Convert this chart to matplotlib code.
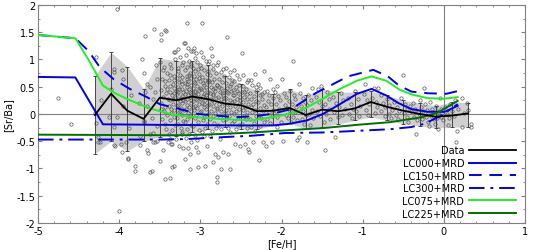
import matplotlib
matplotlib.use('Agg')
import matplotlib.pyplot as plt
import numpy as np
from matplotlib.ticker import MultipleLocator, FormatStrFormatter

plt.rcParams['axes.unicode_minus'] = False
plt.rcParams['font.family'] = 'DejaVu Sans'

# binned data (mean and spread)
bin_feh = [-4.3, -4.1, -3.9, -3.7, -3.5, -3.3, -3.1, -2.9, -2.7, -2.5, -2.3, -2.1,
           -1.9, -1.7, -1.5, -1.3, -1.1, -0.9, -0.7, -0.5, -0.3, -0.1, 0.1, 0.3]
bin_mean = [-0.02, 0.37, 0.06, -0.09, 0.30, 0.25, 0.32, 0.27, 0.19, 0.16, 0.05, 0.06,
            0.11, -0.02, 0.08, 0.05, 0.10, 0.22, 0.13, 0.06, 0.00, -0.05, -0.03, 0.01]
bin_hi = [0.70, 1.13, 0.87, 0.46, 1.02, 0.98, 0.98, 0.89, 0.70, 0.55, 0.43, 0.36,
          0.45, 0.34, 0.46, 0.40, 0.40, 0.42, 0.34, 0.25, 0.20, 0.15, 0.22, 0.21]
bin_lo = [-0.73, -0.50, -0.68, -0.50, -0.42, -0.40, -0.34, -0.28, -0.24, -0.28, -0.28, -0.21,
          -0.17, -0.28, -0.24, -0.18, -0.12, -0.05, -0.12, -0.18, -0.22, -0.26, -0.24, -0.24]

# models
lc000_x = [-5, -4.54, -4.2, -3.5, -2.5, -2.1, -1.9, -1.69, -1.49, -1.28, -1.07, -0.89,
           -0.71, -0.56, -0.40, -0.20, 0.01, 0.17]
lc000_y = [0.68, 0.67, -0.19, -0.20, -0.21, -0.21, -0.18, -0.12, 0.0, 0.18, 0.37, 0.46,
           0.34, 0.20, 0.09, 0.04, 0.04, 0.15]
lc150_x = [-5, -4.54, -4.38, -4.24, -4.07, -3.87, -3.66, -3.50, -3.25, -3.03, -2.57, -2.33,
           -2.12, -1.88, -1.57, -1.18, -0.87, -0.69, -0.56, -0.40, -0.20, 0.03, 0.17]
lc150_y = [1.45, 1.39, 1.16, 0.86, 0.64, 0.46, 0.31, 0.18, 0.09, 0.0, -0.06, -0.04,
           0.0, 0.09, 0.39, 0.69, 0.81, 0.69, 0.53, 0.41, 0.38, 0.37, 0.42]
lc300_x = [-5, -3.5, -3.15, -2.78, -2.37, -1.96, -1.49, -1.07, -0.66, -0.40, -0.24, -0.03, 0.17]
lc300_y = [-0.47, -0.47, -0.46, -0.43, -0.40, -0.35, -0.34, -0.31, -0.28, -0.24, -0.18, -0.03, 0.18]
lc075_x = [-5, -4.54, -4.38, -4.2, -4.05, -3.91, -3.62, -3.37, -3.13, -2.78, -2.37, -2.04,
           -1.83, -1.69, -1.49, -1.28, -1.07, -0.89, -0.71, -0.55, -0.4, -0.2, 0.0, 0.17]
lc075_y = [1.45, 1.39, 1.0, 0.52, 0.38, 0.28, 0.10, 0.0, -0.05, -0.09, -0.12, -0.04,
           0.03, 0.12, 0.28, 0.46, 0.61, 0.69, 0.61, 0.45, 0.36, 0.29, 0.28, 0.31]
lc225_x = [-5, -3.5, -3.19, -2.78, -2.37, -1.83, -1.49, -1.07, -0.66, -0.27, -0.07, 0.17]
lc225_y = [-0.38, -0.39, -0.39, -0.37, -0.34, -0.29, -0.26, -0.20, -0.15, -0.06, 0.03, 0.24]

# individual stars ([Fe/H], [Sr/Ba])
stars = [
    (-4.76, 0.29), (-4.59, -0.18), (-4.28, 1.04), (-4.28, -0.17), (-4.26, -0.43), (-4.24, -0.51),
    (-4.30, 0.02), (-4.26, -0.52), (-4.22, 0.25),
    (-4.07, 0.83), (-4.06, 0.77), (-3.97, 0.80), (-4.07, -0.24), (-4.03, -0.06), (-4.13, -0.06),
    (-4.05, -0.58), (-3.95, 0.64), (-3.98, -0.55), (-3.89, -0.80), (-3.81, -0.95), (-4.03, 1.93),
    (-4.00, -1.79), (-4.07, -0.57), (-3.91, -0.52), (-3.97, -0.70), (-3.89, -0.83), (-3.81, -1.05),
    (-4.10, 0.45), (-3.85, 0.35), (-3.95, 0.15), (-3.88, -0.25),
    (-3.70, 0.76), (-3.66, 0.55), (-3.68, 0.40), (-3.62, 0.50), (-3.56, 0.40), (-3.58, 0.28),
    (-3.66, 0.15), (-3.70, -0.13), (-3.60, -0.07), (-3.54, -0.22), (-3.62, -0.37), (-3.56, -0.52),
    (-3.68, 1.44), (-3.57, 1.56), (-3.62, -1.07), (-3.60, -1.05), (-3.74, -0.57), (-3.66, -0.67),
    (-3.64, -0.72), (-3.69, -0.15), (-3.74, -0.40), (-3.58, -0.52), (-3.58, -0.35), (-3.54, -0.50),
    (-3.72, 1.00), (-3.76, 0.20), (-3.53, 0.65), (-3.55, 0.90),
    (-3.48, 1.47), (-3.43, 1.55), (-3.42, 1.53), (-3.48, 1.35), (-3.50, 0.95), (-3.45, 0.86),
    (-3.41, 0.75), (-3.47, 0.65), (-3.44, 0.52), (-3.49, 0.44), (-3.42, 0.38), (-3.46, 0.31),
    (-3.40, 0.27), (-3.48, 0.20), (-3.43, 0.12), (-3.45, 0.05), (-3.41, -0.02), (-3.47, -0.10),
    (-3.44, -0.18), (-3.42, -0.28), (-3.46, -0.67), (-3.50, -0.86), (-3.43, -1.19), (-3.40, -0.51),
    (-3.44, 0.60), (-3.49, 0.10), (-3.41, 0.45), (-3.46, 0.80),
    (-3.37, -1.18), (-3.36, -0.56), (-3.35, -0.97), (-3.37, -0.46), (-3.35, -0.55), (-3.33, -0.95),
    (-3.31, 1.13), (-3.33, 1.13), (-3.31, 1.00), (-3.39, 0.62), (-3.33, 0.70), (-3.38, 0.92),
    (-3.36, 0.84), (-3.34, 0.55), (-3.32, 0.48), (-3.38, 0.40), (-3.35, 0.35), (-3.31, 0.30),
    (-3.37, 0.25), (-3.34, 0.18), (-3.39, 0.14), (-3.32, 0.08), (-3.36, 0.02), (-3.33, -0.05),
    (-3.38, -0.12), (-3.31, -0.20), (-3.35, -0.30), (-3.39, -0.36), (-3.32, 0.62), (-3.37, 0.52),
    (-3.30, 0.42), (-3.34, 0.28), (-3.36, 0.10), (-3.30, -0.46), (-3.38, 0.72), (-3.33, 0.38),
    (-3.27, 1.19), (-3.23, 0.90), (-3.27, 0.78), (-3.25, 1.05), (-3.21, 0.95), (-3.29, 0.66),
    (-3.24, 0.60), (-3.22, 0.55), (-3.28, 0.50), (-3.26, 0.45), (-3.21, 0.41), (-3.29, 0.36),
    (-3.23, 0.33), (-3.27, 0.28), (-3.25, 0.24), (-3.22, 0.20), (-3.28, 0.16), (-3.24, 0.11),
    (-3.20, 0.07), (-3.26, 0.03), (-3.23, -0.02), (-3.29, -0.08), (-3.21, -0.13), (-3.27, -0.19),
    (-3.24, -0.25), (-3.22, -0.33), (-3.26, -0.58), (-3.23, -0.37), (-3.21, -0.63), (-3.28, 0.85),
    (-3.25, 0.72), (-3.22, 0.68), (-3.27, 0.40), (-3.24, 0.30), (-3.21, 0.26), (-3.29, 0.14),
    (-3.25, 0.05), (-3.20, 1.30), (-3.26, 0.58), (-3.23, 0.46),
    (-3.17, 1.67), (-3.19, 1.30), (-3.19, -0.83), (-3.13, -1.01), (-3.13, -0.73), (-3.15, 1.22),
    (-3.12, 1.15), (-3.18, 1.08), (-3.14, 0.98), (-3.11, 0.92), (-3.16, 0.86), (-3.19, 0.80),
    (-3.13, 0.75), (-3.17, 0.70), (-3.11, 0.66), (-3.15, 0.61), (-3.19, 0.57), (-3.12, 0.53),
    (-3.16, 0.49), (-3.14, 0.45), (-3.18, 0.42), (-3.11, 0.38), (-3.15, 0.35), (-3.13, 0.31),
    (-3.17, 0.28), (-3.19, 0.24), (-3.12, 0.21), (-3.16, 0.17), (-3.14, 0.13), (-3.18, 0.09),
    (-3.11, 0.05), (-3.15, 0.01), (-3.13, -0.04), (-3.17, -0.09), (-3.19, -0.15), (-3.12, -0.21),
    (-3.16, -0.28), (-3.14, -0.36), (-3.18, -0.44), (-3.11, -0.52), (-3.15, -0.63), (-3.12, 0.88),
    (-3.17, 0.55), (-3.14, 0.72), (-3.11, 0.26), (-3.19, 0.36), (-3.13, 0.40), (-3.16, 0.64),
    (-3.09, 1.15), (-3.08, 1.22), (-3.05, 1.12), (-3.05, -0.61), (-3.03, -0.70), (-3.03, -0.98),
    (-3.07, 1.02), (-3.04, 0.95), (-3.01, 0.90), (-3.09, 0.84), (-3.06, 0.79), (-3.02, 0.74),
    (-3.08, 0.69), (-3.05, 0.64), (-3.01, 0.60), (-3.07, 0.56), (-3.04, 0.52), (-3.09, 0.48),
    (-3.02, 0.44), (-3.06, 0.41), (-3.03, 0.37), (-3.08, 0.33), (-3.01, 0.30), (-3.05, 0.27),
    (-3.09, 0.23), (-3.02, 0.19), (-3.06, 0.15), (-3.04, 0.11), (-3.08, 0.07), (-3.01, 0.03),
    (-3.05, -0.02), (-3.07, -0.08), (-3.03, -0.14), (-3.09, -0.22), (-3.02, -0.30), (-3.06, -0.38),
    (-3.04, -0.47), (-3.08, 0.58), (-3.02, 0.66), (-3.06, 0.35), (-3.04, 0.25), (-3.01, 0.47),
    (-3.09, 0.12), (-3.03, 0.82), (-3.07, 0.43),
    (-2.98, 1.67), (-2.99, 1.13), (-2.96, -0.40), (-2.94, -0.95), (-2.92, -0.58), (-2.97, 1.05),
    (-2.93, 0.98), (-2.91, 0.91), (-2.99, 0.85), (-2.95, 0.80), (-2.92, 0.73), (-2.98, 0.68),
    (-2.94, 0.63), (-2.90, 0.58), (-2.96, 0.53), (-2.93, 0.49), (-2.99, 0.45), (-2.91, 0.41),
    (-2.95, 0.37), (-2.97, 0.33), (-2.92, 0.29), (-2.94, 0.25), (-2.98, 0.21), (-2.90, 0.17),
    (-2.96, 0.13), (-2.93, 0.09), (-2.99, 0.05), (-2.91, 0.00), (-2.95, -0.06), (-2.97, -0.12),
    (-2.92, -0.19), (-2.94, -0.26), (-2.98, -0.33), (-2.91, 0.62), (-2.96, 0.44), (-2.93, 0.35),
    (-2.99, 0.28), (-2.95, 0.18), (-2.90, 0.78), (-2.97, 0.56),
    (-2.87, 1.22), (-2.86, 1.06), (-2.84, 0.89), (-2.88, -0.40), (-2.84, -0.89), (-2.82, -0.73),
    (-2.89, 0.97), (-2.85, 0.82), (-2.81, 0.76), (-2.88, 0.71), (-2.83, 0.65), (-2.86, 0.59),
    (-2.80, 0.54), (-2.87, 0.50), (-2.84, 0.46), (-2.82, 0.42), (-2.88, 0.38), (-2.85, 0.34),
    (-2.81, 0.30), (-2.86, 0.26), (-2.83, 0.22), (-2.89, 0.18), (-2.84, 0.14), (-2.80, 0.10),
    (-2.87, 0.06), (-2.82, 0.02), (-2.85, -0.04), (-2.88, -0.10), (-2.83, -0.17), (-2.81, -0.25),
    (-2.86, -0.32), (-2.84, 0.36), (-2.89, 0.60), (-2.82, 0.48), (-2.87, 0.28),
    (-2.79, 0.90), (-2.72, 0.83), (-2.80, -1.16), (-2.80, -1.25), (-2.78, -0.79), (-2.74, -1.01),
    (-2.72, -0.70), (-2.76, -0.46), (-2.78, 0.95), (-2.75, 0.77), (-2.71, 0.70), (-2.77, 0.64),
    (-2.73, 0.58), (-2.79, 0.53), (-2.74, 0.48), (-2.70, 0.44), (-2.76, 0.40), (-2.72, 0.35),
    (-2.78, 0.31), (-2.75, 0.27), (-2.71, 0.23), (-2.77, 0.19), (-2.73, 0.15), (-2.79, 0.11),
    (-2.74, 0.06), (-2.70, 0.01), (-2.76, -0.05), (-2.72, -0.12), (-2.78, -0.20), (-2.75, -0.28),
    (-2.73, 0.38), (-2.77, 0.50), (-2.71, 0.30),
    (-2.67, 1.41), (-2.66, -0.73), (-2.64, -1.01), (-2.64, 0.77), (-2.68, 0.85), (-2.65, 0.68),
    (-2.61, 0.62), (-2.69, 0.57), (-2.63, 0.52), (-2.67, 0.47), (-2.62, 0.42), (-2.66, 0.38),
    (-2.60, 0.34), (-2.68, 0.30), (-2.64, 0.26), (-2.61, 0.22), (-2.67, 0.18), (-2.63, 0.13),
    (-2.69, 0.08), (-2.62, 0.03), (-2.65, -0.03), (-2.68, -0.10), (-2.61, -0.17), (-2.66, -0.25),
    (-2.63, -0.33), (-2.67, 0.40), (-2.62, 0.55),
    (-2.52, 0.64), (-2.57, -0.55), (-2.51, -0.58), (-2.59, 0.80), (-2.55, 0.71), (-2.58, 0.60),
    (-2.53, 0.54), (-2.56, 0.49), (-2.60, 0.44), (-2.54, 0.39), (-2.58, 0.35), (-2.51, 0.31),
    (-2.55, 0.27), (-2.59, 0.23), (-2.53, 0.19), (-2.57, 0.15), (-2.52, 0.10), (-2.56, 0.05),
    (-2.58, 0.00), (-2.54, -0.06), (-2.59, -0.13), (-2.52, -0.20), (-2.56, -0.28), (-2.55, 0.42),
    (-2.51, 0.25),
    (-2.49, 1.12), (-2.41, 0.62), (-2.45, -0.55), (-2.41, -0.64), (-2.40, -0.70), (-2.47, 0.72),
    (-2.43, 0.58), (-2.48, 0.52), (-2.44, 0.46), (-2.49, 0.41), (-2.42, 0.36), (-2.46, 0.32),
    (-2.43, 0.27), (-2.48, 0.22), (-2.41, 0.18), (-2.45, 0.13), (-2.47, 0.08), (-2.42, 0.03),
    (-2.46, -0.03), (-2.44, -0.10), (-2.49, -0.18), (-2.42, -0.26), (-2.46, 0.40),
    (-2.33, 0.73), (-2.31, 0.49), (-2.35, -0.52), (-2.38, 0.62), (-2.36, 0.54), (-2.32, 0.43),
    (-2.39, 0.38), (-2.34, 0.33), (-2.37, 0.28), (-2.31, 0.23), (-2.35, 0.18), (-2.38, 0.13),
    (-2.33, 0.08), (-2.36, 0.03), (-2.32, -0.03), (-2.39, -0.09), (-2.34, -0.16), (-2.37, -0.24),
    (-2.33, -0.32),
    (-2.22, 0.79), (-2.28, -0.84), (-2.23, -0.52), (-2.29, 0.55), (-2.26, 0.47), (-2.21, 0.40),
    (-2.27, 0.34), (-2.24, 0.28), (-2.29, 0.22), (-2.22, 0.17), (-2.26, 0.11), (-2.23, 0.05),
    (-2.28, -0.01), (-2.25, -0.08), (-2.21, -0.15), (-2.27, -0.22), (-2.24, 0.36),
    (-2.14, 0.64), (-2.06, 0.51), (-2.19, -0.58), (-2.12, -0.52), (-2.18, 0.42), (-2.15, 0.35),
    (-2.11, 0.29), (-2.17, 0.23), (-2.13, 0.18), (-2.19, 0.13), (-2.10, 0.08), (-2.16, 0.03),
    (-2.12, -0.03), (-2.18, -0.10), (-2.14, -0.17), (-2.08, 0.40), (-2.04, 0.33), (-2.02, 0.25),
    (-2.07, 0.18), (-2.03, 0.10), (-2.09, 0.02), (-2.05, -0.06), (-2.01, -0.14), (-2.06, -0.24),
    (-2.10, 0.46),
    (-1.99, 0.64), (-1.86, 0.97), (-1.79, 0.55), (-1.98, -0.49), (-1.81, -0.47), (-1.97, 0.38),
    (-1.94, 0.31), (-1.91, 0.24), (-1.96, 0.17), (-1.93, 0.11), (-1.89, 0.05), (-1.95, -0.01),
    (-1.92, -0.08), (-1.88, -0.15), (-1.85, 0.35), (-1.83, 0.27), (-1.87, 0.19), (-1.82, 0.12),
    (-1.84, 0.04), (-1.86, -0.05), (-1.81, -0.12), (-1.90, 0.42),
    (-1.78, -0.43), (-1.69, -0.52), (-1.62, 0.48), (-1.77, 0.38), (-1.74, 0.30), (-1.71, 0.22),
    (-1.76, 0.14), (-1.73, 0.06), (-1.70, -0.02), (-1.75, -0.10), (-1.72, -0.18), (-1.67, 0.35),
    (-1.64, 0.26), (-1.68, 0.16), (-1.63, 0.08), (-1.66, 0.00), (-1.61, -0.08), (-1.65, -0.20),
    (-1.55, 0.46), (-1.51, 0.51), (-1.47, -0.67), (-1.34, -0.43), (-1.58, 0.32), (-1.54, 0.22),
    (-1.50, 0.14), (-1.56, 0.05), (-1.52, -0.04), (-1.48, -0.14), (-1.44, 0.40), (-1.41, 0.28),
    (-1.46, 0.18), (-1.42, 0.09), (-1.45, 0.00), (-1.40, -0.10), (-1.37, 0.32), (-1.33, 0.20),
    (-1.29, 0.12), (-1.35, 0.04), (-1.31, -0.06), (-1.27, 0.38), (-1.24, 0.25), (-1.22, 0.10),
    (-1.26, -0.02),
    (-1.18, 0.30), (-1.15, 0.18), (-1.12, 0.09), (-1.17, 0.00), (-1.13, -0.08), (-1.09, 0.42),
    (-1.06, 0.28), (-1.03, 0.15), (-1.08, 0.05), (-1.04, -0.04), (-0.97, 0.55), (-0.99, 0.36),
    (-0.95, 0.25), (-0.92, 0.18), (-0.96, 0.08), (-0.93, -0.02), (-0.89, 0.30), (-0.86, 0.47),
    (-0.84, 0.22), (-0.82, 0.12), (-0.85, 0.02), (-0.81, 0.47),
    (-0.78, 0.35), (-0.75, 0.20), (-0.72, 0.12), (-0.77, 0.05), (-0.73, -0.04), (-0.70, 0.28),
    (-0.67, 0.16), (-0.64, 0.08), (-0.68, 0.00), (-0.65, -0.08), (-0.62, 0.22), (-0.58, 0.12),
    (-0.55, 0.05), (-0.59, -0.02), (-0.56, -0.10), (-0.50, 0.72), (-0.53, 0.30), (-0.48, 0.18),
    (-0.45, 0.10), (-0.49, 0.02), (-0.46, -0.06), (-0.42, 0.15), (-0.44, -0.15), (-0.41, 0.06),
    (-0.34, -0.37), (-0.25, 0.47), (-0.38, 0.20), (-0.35, 0.10), (-0.32, 0.03), (-0.37, -0.05),
    (-0.33, -0.12), (-0.30, 0.25), (-0.28, 0.12), (-0.26, 0.05), (-0.29, -0.02), (-0.27, -0.10),
    (-0.23, 0.18), (-0.21, 0.08), (-0.19, 0.01), (-0.22, -0.06), (-0.20, -0.14), (-0.17, 0.22),
    (-0.15, 0.10), (-0.13, 0.03), (-0.16, -0.04), (-0.12, -0.10), (-0.10, 0.14), (-0.08, 0.06),
    (-0.07, -0.28), (-0.05, 0.29), (-0.06, -0.01), (-0.09, -0.08), (-0.04, 0.10), (-0.03, -0.05),
    (-0.02, 0.02), (-0.01, -0.12), (-0.11, -0.18), (-0.18, -0.22),
    (0.02, 0.12), (0.04, 0.00), (0.06, -0.08), (0.08, 0.18), (0.10, 0.05), (0.12, -0.03),
    (0.15, -0.52), (0.16, -0.31), (0.14, 0.25), (0.18, 0.10), (0.22, 0.29), (0.22, -0.24),
    (0.28, 0.21), (0.25, 0.02), (0.33, -0.24), (0.34, -0.18), (0.30, 0.08), (0.05, -0.20),
]
feh = [s[0] for s in stars]
srba = [s[1] for s in stars]

fig = plt.figure(figsize=(5.34, 2.51), dpi=100)
ax = fig.add_axes([0.0712, 0.108, 0.912, 0.868])

grey = '#808080'
ax.fill_between(bin_feh, bin_lo, bin_hi, color='#d0d0d0', lw=0, zorder=1)
ax.axhline(0, color=grey, lw=0.8, zorder=1.5)
ax.axvline(0, color=grey, lw=0.8, zorder=1.5)
ax.plot(feh, srba, 'o', mfc='none', mec='#585858', ms=2.4, mew=0.5, zorder=2)

mean = np.array(bin_mean)
ax.errorbar(bin_feh, bin_mean, yerr=[mean - np.array(bin_lo), np.array(bin_hi) - mean],
            fmt='none', ecolor='#303030', elinewidth=0.6, capsize=1.5, capthick=0.6, zorder=3)

blue = '#0000ee'
l150, = ax.plot(lc150_x, lc150_y, color=blue, lw=1.4, label='LC150+MRD', zorder=4)
l150.set_dashes([6.5, 4])
l300, = ax.plot(lc300_x, lc300_y, color=blue, lw=1.4, label='LC300+MRD', zorder=4)
l300.set_dashes([8, 3, 1.5, 3])
l000, = ax.plot(lc000_x, lc000_y, color=blue, lw=1.4, label='LC000+MRD', zorder=4)
l075, = ax.plot(lc075_x, lc075_y, color='#22ee22', lw=1.4, label='LC075+MRD', zorder=4)
l225, = ax.plot(lc225_x, lc225_y, color='#007000', lw=1.4, label='LC225+MRD', zorder=4)
ldat, = ax.plot(bin_feh, bin_mean, color='black', lw=1.3, label='Data', zorder=5)

ax.set_xlim(-5, 1)
ax.set_ylim(-2, 2)
ax.xaxis.set_major_locator(MultipleLocator(1))
ax.xaxis.set_minor_locator(MultipleLocator(0.2))
ax.yaxis.set_major_locator(MultipleLocator(0.5))
ax.yaxis.set_minor_locator(MultipleLocator(0.25))
ax.yaxis.set_major_formatter(FormatStrFormatter('%g'))
ax.xaxis.set_major_formatter(FormatStrFormatter('%g'))
ax.tick_params(which='both', direction='in', top=True, right=True, color=grey,
               labelsize=7, pad=2)
ax.tick_params(which='major', length=3)
ax.tick_params(which='minor', length=1.5)
for s in ax.spines.values():
    s.set_color(grey)
    s.set_linewidth(0.8)

ax.set_xlabel('[Fe/H]', fontsize=7, labelpad=2)
ax.set_ylabel('[Sr/Ba]', fontsize=7, labelpad=2)

ax.legend(handles=[ldat, l000, l150, l300, l075, l225], loc='lower right',
          frameon=False, markerfirst=False, fontsize=7, handlelength=4.8,
          labelspacing=0.27, handletextpad=0.5, borderaxespad=0.05,
          bbox_to_anchor=(0.99, 0.0))

fig.savefig('out.png', dpi=100)
plt.close()
